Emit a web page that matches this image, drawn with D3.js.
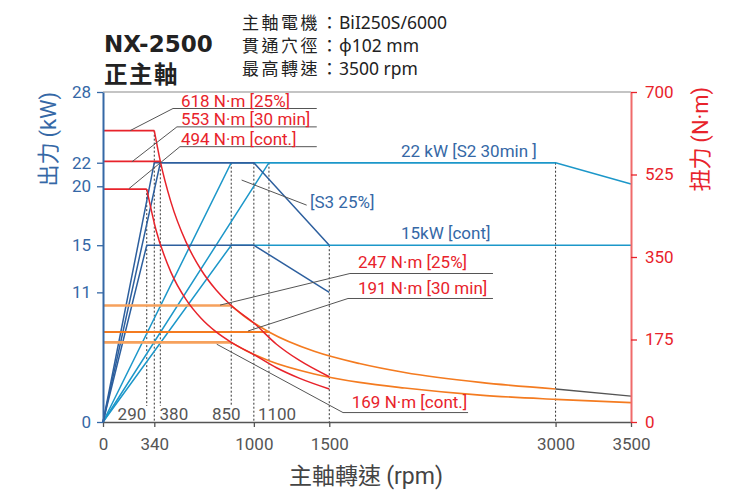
<!DOCTYPE html>
<html>
<head>
<meta charset="utf-8">
<script src="https://cdn.jsdelivr.net/npm/d3@7"></script>
<style>
  body { margin: 0; background: #fff; }
  svg text { font-family: Roboto, "Noto Sans", sans-serif; }
  .cjk { font-family: "Noto Sans CJK TC", "Noto Sans CJK SC", sans-serif; }
</style>
</head>
<body>
<div id="chart"></div>
<script>
/**
 * DATA (rpm, kW) and (rpm, N·m)
 * */
const xTicks = [0, 340, 1000, 1500, 3000, 3500];
const kwTicks = [0, 11, 15, 20, 22, 28];
const nmTicks = [0, 175, 350, 525, 700];
const innerTicks = [
  { v: 287, label: "290", anchor: "end" },
  { v: 375, label: "380", anchor: "start" },
  { v: 912, label: "850", anchor: "end" },
  { v: 1027, label: "1100", anchor: "start" }
];

// power, low-speed winding (dark blue)
const powerLowS3 = [[0, 0], [340, 22], [1000, 22], [1500, 15]];
const powerLowS2 = [[0, 0], [380, 22], [1000, 22]];
const powerLowCont = [[0, 0], [290, 15], [1000, 15], [1500, 11]];
// power, high-speed winding (light blue)
const powerHighS3 = [[0, 0], [850, 22], [3000, 22], [3500, 20.2]];
const powerHighS2 = [[0, 0], [1100, 22], [3000, 22]];
const powerHighCont = [[0, 0], [850, 15], [3500, 15]];

// torque, low-speed winding (red)
const torqueLowS3Flat = [[0, 618], [340, 618]];
const torqueLowS2Flat = [[0, 553], [380, 553]];
const torqueLowContFlat = [[0, 494], [290, 494]];
const torqueLowS3Curve = [[340, 618], [380, 553], [450, 467], [550, 382], [650, 323], [750, 280],
  [850, 247], [1000, 210], [1150, 165], [1300, 131], [1500, 96]];
const torqueLowContCurve = [[290, 494], [350, 409], [450, 318], [550, 260], [650, 220], [750, 191],
  [850, 169], [1000, 143], [1150, 115], [1300, 93], [1500, 70]];

// torque, high-speed winding (orange)
const torqueHighS3Flat = [[0, 247], [850, 247]];
const torqueHighS2Flat = [[0, 191], [1100, 191]];
const torqueHighContFlat = [[0, 169], [850, 169]];
const torqueHighS3Curve = [[850, 247], [950, 221], [1100, 191], [1400, 150], [1700, 124],
  [2000, 105], [2500, 84], [3000, 70]];
const torqueHighS3Tail = [[3000, 70], [3500, 55]];
const torqueHighContCurve = [[850, 169], [950, 151], [1100, 130], [1400, 102], [1700, 84],
  [2000, 72], [2500, 57], [3000, 48], [3500, 41]];

// dashed guides: rpm, top value and axis it belongs to, how far above the x axis it stops (px)
const guides = [
  { rpm: 290, top: 494, axis: "nm", gap: 16 },
  { rpm: 340, top: 618, axis: "nm", gap: 0 },
  { rpm: 380, top: 553, axis: "nm", gap: 16 },
  { rpm: 850, top: 22, axis: "kw", gap: 16 },
  { rpm: 1000, top: 22, axis: "kw", gap: 0 },
  { rpm: 1100, top: 22, axis: "kw", gap: 20 },
  { rpm: 1500, top: 15, axis: "kw", gap: 0 },
  { rpm: 3000, top: 22, axis: "kw", gap: 0 }
];

// torque labels with leader lines (N·m units)
const torqueNotes = [
  { text: "618 N·m [25%]", at: [517, 669], pts: [[179, 618], [464, 665], [1417, 665]] },
  { text: "553 N·m [30 min]", at: [517, 630], pts: [[192, 552], [490, 626], [1417, 626]] },
  { text: "494 N·m [cont.]", at: [517, 588], pts: [[172, 495], [510, 584], [1417, 584]] },
  { text: "247 N·m [25%]", at: [1690, 327], pts: [[776, 248], [1637, 315], [2585, 315]] },
  { text: "191 N·m [30 min]", at: [1690, 271], pts: [[961, 193], [1624, 262], [2585, 262]] },
  { text: "169 N·m [cont.]", at: [1649, 30], pts: [[754, 165], [1591, 20], [2420, 20]] }
];
// power labels (kW units)
const powerNotes = [
  { text: "22 kW [S2 30min ]", at: [1975, 22.45], pts: null },
  { text: "[S3 25%]", at: [1372, 18.15], pts: [[919, 20.53], [1350, 18.4]] },
  { text: "15kW [cont]", at: [1975, 15.5], pts: null }
];

const specLabels = ["主軸電機", "貫通穴徑", "最高轉速"];
const specValues = ["BiI250S/6000", "φ102 mm", "3500 rpm"];

/**
 * LAYOUT
 * */
const width = 741, height = 491,
  margin = { top: 92, right: 110, bottom: 69, left: 103 };

const colors = {
  dark: "#2d5f9e", light: "#1c97c9", red: "#e8232b", orange: "#f47b20",
  orangeFlat: "#f6a15c", gray: "#555", blueText: "#3568a6", axisRed: "#f06a6a"
};

const svg = d3.select("#chart").append("svg")
  .attr("width", width).attr("height", height);

const x = d3.scaleLinear().domain([0, 3500]).range([margin.left, width - margin.right]);
const yKw = d3.scaleLinear().domain([0, 28]).range([height - margin.bottom, margin.top]);
const yNm = d3.scaleLinear().domain([0, 700]).range([height - margin.bottom, margin.top]);

const lineKw = d3.line().x(d => x(d[0])).y(d => yKw(d[1]));
const lineNm = d3.line().x(d => x(d[0])).y(d => yNm(d[1]));
const curveNm = d3.line().x(d => x(d[0])).y(d => yNm(d[1])).curve(d3.curveMonotoneX);

// top frame line
svg.append("line")
  .attr("x1", x(0)).attr("x2", x(3500))
  .attr("y1", yKw(28)).attr("y2", yKw(28))
  .attr("stroke", "#8a8a8a").attr("stroke-width", 1.2);

// dashed guides
svg.append("g").selectAll("line")
  .data(guides)
  .join("line")
  .attr("x1", d => x(d.rpm)).attr("x2", d => x(d.rpm))
  .attr("y1", d => d.axis === "kw" ? yKw(d.top) : yNm(d.top))
  .attr("y2", d => yKw(0) - d.gap)
  .attr("stroke", "#333").attr("stroke-width", 1)
  .attr("stroke-dasharray", "2,2");

// power curves
const drawPath = (data, gen, color, w) =>
  svg.append("path").datum(data)
    .attr("d", gen).attr("fill", "none")
    .attr("stroke", color).attr("stroke-width", w);

[powerHighCont, powerHighS2, powerHighS3].forEach(d => drawPath(d, lineKw, colors.light, 1.5));
[powerLowCont, powerLowS2, powerLowS3].forEach(d => drawPath(d, lineKw, colors.dark, 1.5));

// torque curves, high winding
drawPath(torqueHighS3Curve, curveNm, colors.orange, 1.6);
drawPath(torqueHighContCurve, curveNm, colors.orange, 1.6);
drawPath(torqueHighS3Tail, lineNm, "#555", 1.3);
drawPath(torqueHighS3Flat, lineNm, colors.orangeFlat, 2.6);
drawPath(torqueHighContFlat, lineNm, colors.orangeFlat, 2.6);
drawPath(torqueHighS2Flat, lineNm, colors.orange, 2);

// torque curves, low winding
drawPath(torqueLowS3Curve, curveNm, colors.red, 1.5);
drawPath(torqueLowContCurve, curveNm, colors.red, 1.5);
[torqueLowS3Flat, torqueLowS2Flat, torqueLowContFlat].forEach(d => drawPath(d, lineNm, colors.red, 1.8));

// leader lines + labels
const notes = svg.append("g");
torqueNotes.forEach(n => {
  notes.append("path").datum(n.pts).attr("d", lineNm)
    .attr("fill", "none").attr("stroke", colors.gray).attr("stroke-width", 1);
  notes.append("text")
    .attr("x", x(n.at[0])).attr("y", yNm(n.at[1]))
    .attr("fill", colors.red).attr("font-size", 17)
    .text(n.text);
});
powerNotes.forEach(n => {
  if (n.pts) {
    notes.append("path").datum(n.pts).attr("d", lineKw)
      .attr("fill", "none").attr("stroke", colors.gray).attr("stroke-width", 1);
  }
  notes.append("text")
    .attr("x", x(n.at[0])).attr("y", yKw(n.at[1]))
    .attr("fill", colors.blueText).attr("font-size", 17)
    .text(n.text);
});

// inner rpm labels
svg.append("g").selectAll("text")
  .data(innerTicks)
  .join("text")
  .attr("x", d => x(d.v)).attr("y", yKw(0) - 2)
  .attr("text-anchor", d => d.anchor)
  .attr("fill", "#555").attr("font-size", 17)
  .text(d => d.label);

// axes
const xAxis = svg.append("g")
  .attr("transform", `translate(0,${yKw(0)})`)
  .call(d3.axisBottom(x).tickValues(xTicks).tickFormat(d3.format("d"))
    .tickSize(5).tickSizeOuter(0).tickPadding(11));
xAxis.select(".domain").attr("stroke", "#555").attr("stroke-width", 1.5);
xAxis.selectAll(".tick line").attr("stroke", "#555").attr("stroke-width", 1.3);
xAxis.selectAll("text").attr("fill", "#555").attr("font-size", 17)
  .style("font-family", "Roboto, sans-serif");

const yLeft = svg.append("g")
  .attr("transform", `translate(${x(0)},0)`)
  .call(d3.axisLeft(yKw).tickValues(kwTicks).tickSize(6).tickSizeOuter(0).tickPadding(6));
yLeft.select(".domain").attr("stroke", colors.blueText).attr("stroke-width", 2);
yLeft.selectAll(".tick line").attr("stroke", colors.blueText).attr("stroke-width", 1.3);
yLeft.selectAll("text").attr("fill", colors.blueText).attr("font-size", 17)
  .style("font-family", "Roboto, sans-serif");

const yRight = svg.append("g")
  .attr("transform", `translate(${x(3500)},0)`)
  .call(d3.axisRight(yNm).tickValues(nmTicks).tickSize(6).tickSizeOuter(0).tickPadding(8));
yRight.select(".domain").attr("stroke", colors.axisRed).attr("stroke-width", 2);
yRight.selectAll(".tick line").attr("stroke", colors.red).attr("stroke-width", 1.3);
yRight.selectAll("text").attr("fill", colors.red).attr("font-size", 17)
  .style("font-family", "Roboto, sans-serif");

// axis titles: CJK part + latin part
function axisTitle(tx, ty, cjk, latin, color) {
  const t = svg.append("text")
    .attr("transform", `translate(${tx},${ty}) rotate(-90)`)
    .attr("text-anchor", "middle").attr("fill", color).attr("font-size", 22);
  t.append("tspan").attr("class", "cjk").text(cjk);
  t.append("tspan").style("font-family", "Roboto, sans-serif").text(latin);
}
axisTitle(56, yKw(24), "出力 ", "(kW)", colors.blueText);
axisTitle(708, yNm(600), "扭力 ", "(N·m)", colors.red);

const xt = svg.append("text")
  .attr("x", 366).attr("y", 484)
  .attr("text-anchor", "middle").attr("fill", "#444").attr("font-size", 23);
xt.append("tspan").attr("class", "cjk").text("主軸轉速 ");
xt.append("tspan").style("font-family", "Roboto, sans-serif").text("(rpm)");

// title block (one text, two lines)
const title = svg.append("text").attr("fill", "#222").attr("font-weight", "bold");
title.append("tspan")
  .attr("x", 104).attr("y", 52)
  .attr("font-size", 23)
  .style("font-family", "'DejaVu Sans', sans-serif")
  .text("NX-2500");
title.append("tspan").attr("class", "cjk")
  .attr("x", 104).attr("y", 83)
  .attr("font-size", 23.5).attr("letter-spacing", 1.5)
  .text("正主軸");

// spec lines: label, colon, value in one text each
const spec = svg.append("g");
specLabels.forEach((lab, i) => {
  const t = spec.append("text")
    .attr("x", 242).attr("y", 29 + i * 23)
    .attr("fill", "#222").attr("font-size", 17);
  t.append("tspan").attr("class", "cjk").attr("letter-spacing", 2.5).text(lab);
  t.append("tspan").attr("class", "cjk").attr("x", 321).text("：");
  t.append("tspan").attr("x", 339)
    .attr("font-size", 17.5)
    .style("font-family", "'Noto Sans', sans-serif")
    .text(specValues[i]);
});
</script>
</body>
</html>
